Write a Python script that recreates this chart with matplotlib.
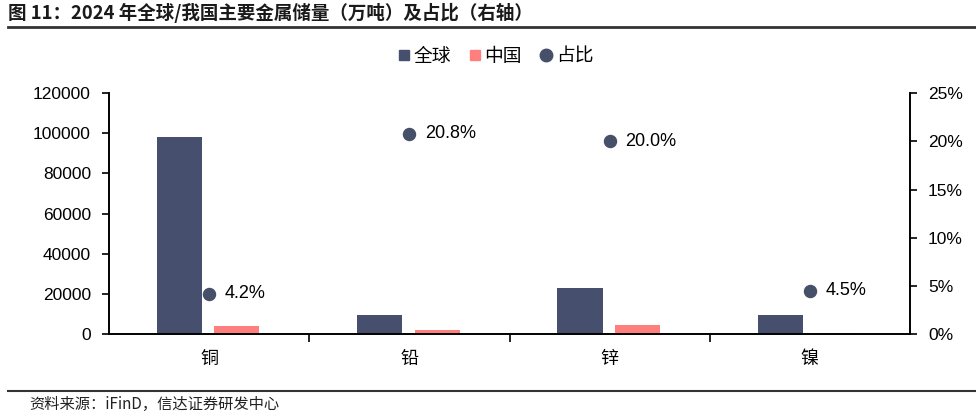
import matplotlib
matplotlib.use('Agg')
import matplotlib.pyplot as plt
from matplotlib.lines import Line2D
import numpy as np

plt.rcParams['font.family'] = ['Liberation Sans', 'Noto Sans CJK SC', 'DejaVu Sans']

# 数据
metals = ['铜', '铅', '锌', '镍']
world = [98000, 9600, 23000, 9500]      # 全球储量（万吨）
china = [4100, 2000, 4600, 430]         # 中国储量（万吨）
share = [4.2, 20.8, 20.0, 4.5]          # 占比（%）
share_labels = ['4.2%', '20.8%', '20.0%', '4.5%']

c_world = '#474f6e'
c_china = '#ff7f7f'
c_dot = '#465068'

fig = plt.figure(figsize=(9.76, 4.16), dpi=100)
ax = fig.add_axes([0.1117, 0.197, 0.8207, 0.579])
ax2 = ax.twinx()

x = np.arange(len(metals))
w = 0.225
ax.bar(x - 0.148, world, w, color=c_world, label='全球')
ax.bar(x + 0.138, china, w, color=c_china, label='中国')
ax2.scatter(x, share, s=75, color=c_dot, zorder=3, label='占比')
for xi, yi, lab in zip(x, share, share_labels):
    ax2.annotate(lab, (xi, yi), xytext=(11, 0), textcoords='offset points',
                 va='center', ha='left', fontsize=13)

ax.set_xlim(-0.5, len(metals) - 0.5)
ax.set_ylim(0, 120000)
ax.set_yticks(np.arange(0, 120001, 20000))
ax2.set_ylim(0, 25)
ax2.set_yticks(np.arange(0, 26, 5))
ax2.set_yticklabels(['%d%%' % v for v in range(0, 26, 5)])

ax.set_xticks(x)
ax.set_xticklabels(metals, fontsize=13)
ax.set_xticks(np.arange(0.5, len(metals) - 1, 1), minor=True)
ax.tick_params(axis='x', which='major', length=0, pad=12)
ax.tick_params(axis='x', which='minor', length=6, width=1.2, direction='out')
ax.tick_params(axis='y', labelsize=12.5, length=5, width=1.2, direction='out', pad=8)
ax2.tick_params(axis='y', labelsize=12.5, length=5, width=1.2, direction='out', pad=8)

for a in (ax, ax2):
    a.spines['top'].set_visible(False)
    for s in ('left', 'right', 'bottom'):
        a.spines[s].set_linewidth(1.2)

handles = [Line2D([], [], marker='s', color=c_world, linestyle='', markersize=6.5),
           Line2D([], [], marker='s', color=c_china, linestyle='', markersize=6.5),
           Line2D([], [], marker='o', color=c_dot, linestyle='', markersize=9)]
fig.legend(handles, ['全球', '中国', '占比'], loc='center', bbox_to_anchor=(0.508, 0.863),
           ncol=3, frameon=False, fontsize=13.5, handlelength=0.6,
           handletextpad=0.2, columnspacing=1.0)

# 标题与来源
fig.text(0.008, 0.968, '图 11：2024 年全球/我国主要金属储量（万吨）及占比（右轴）',
         fontsize=13.3, fontweight='bold', va='center', ha='left', color='#1a1a1a',
         family=['Noto Sans CJK SC', 'DejaVu Sans'])
fig.add_artist(Line2D([0.008, 1.0], [0.935, 0.935], color='#333333', linewidth=2))
fig.add_artist(Line2D([0.008, 1.0], [0.06, 0.06], color='#333333', linewidth=1.5))
fig.text(0.03, 0.028, '资料来源：iFinD，信达证券研发中心', fontsize=11, style='italic',
         va='center', ha='left', color='#222222', family=['Noto Sans CJK SC', 'DejaVu Sans'])

fig.savefig('out.png', dpi=100)
